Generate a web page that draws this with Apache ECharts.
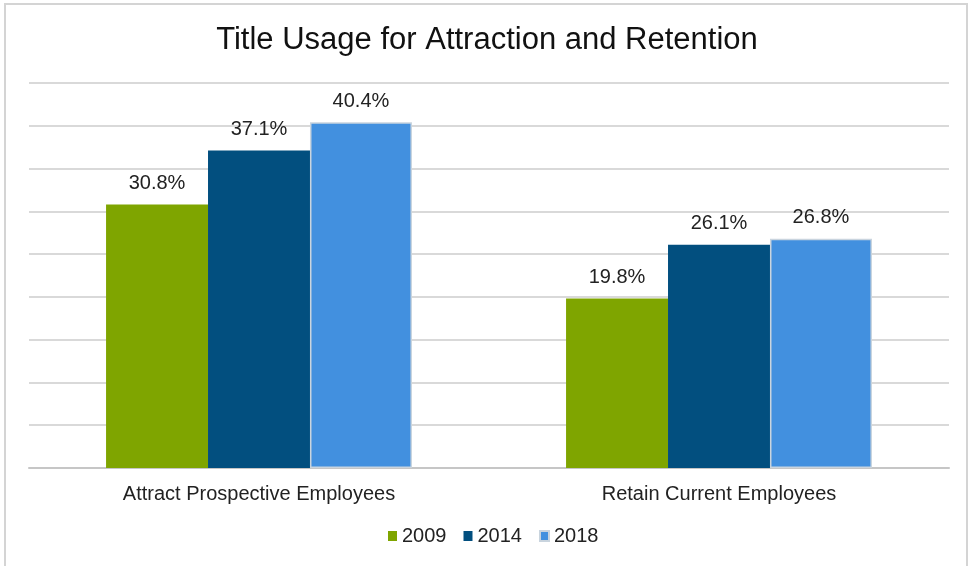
<!DOCTYPE html>
<html>
<head>
<meta charset="utf-8">
<script src="https://cdn.jsdelivr.net/npm/echarts@6/dist/echarts.min.js"></script>
<style>
  html, body { margin: 0; padding: 0; background: #fff; }
  #frame { position: absolute; left: 4px; top: 3px; width: 964px; height: 570px; border: 2px solid #d4d4d4; box-sizing: border-box; }
  #chart { position: absolute; left: 0; top: 0; width: 974px; height: 566px; }
</style>
</head>
<body>
<div id="frame"></div>
<div id="chart"></div>
<script>
const categories = ['Attract Prospective Employees', 'Retain Current Employees'];
const years = ['2009', '2014', '2018'];
const values2009 = [30.8, 19.8];
const values2014 = [37.1, 26.1];
const values2018 = [40.4, 26.8];
const colors = ['#7fa500', '#024f7f', '#4290df'];

const seriesValues = [values2009, values2014, values2018];
const font = 'Liberation Sans, Arial, sans-serif';

const chart = echarts.init(document.getElementById('chart'), null, { renderer: 'canvas' });
chart.setOption({
  animation: false,
  title: {
    text: 'Title Usage for Attraction and Retention',
    left: 'center',
    top: 20,
    textStyle: { fontFamily: font, fontSize: 31, fontWeight: 'normal', color: '#111' }
  },
  legend: {
    bottom: 15,
    left: 383,
    itemWidth: 9,
    itemHeight: 10,
    itemGap: 17,
    icon: 'rect',
    textStyle: { fontFamily: font, fontSize: 20, color: '#222', padding: [0, 0, 0, 0] },
    data: years
  },
  grid: { left: 29, right: 25, top: 83, bottom: 98 },
  xAxis: {
    type: 'category',
    data: categories,
    axisTick: { show: false },
    axisLine: { lineStyle: { color: '#c6c6c6', width: 2 } },
    axisLabel: { margin: 16, fontFamily: font, fontSize: 20, color: '#222' }
  },
  yAxis: {
    type: 'value',
    min: 0,
    max: 45,
    interval: 5,
    axisLabel: { show: false },
    axisLine: { show: false },
    axisTick: { show: false },
    splitLine: { lineStyle: { color: '#d9d9d9', width: 2 } }
  },
  series: years.map((y, i) => ({
    name: y,
    type: 'bar',
    data: seriesValues[i],
    barGap: '0%',
    barCategoryGap: '33.5%',
    itemStyle: { color: colors[i], borderColor: i === 2 ? '#c9d4de' : 'rgba(0,0,0,0)', borderWidth: i === 2 ? 1.5 : 0 },
    label: {
      show: true,
      position: 'top',
      distance: 11,
      formatter: p => p.value.toFixed(1) + '%',
      fontFamily: font,
      fontSize: 20,
      color: '#222'
    }
  }))
});
</script>
</body>
</html>
